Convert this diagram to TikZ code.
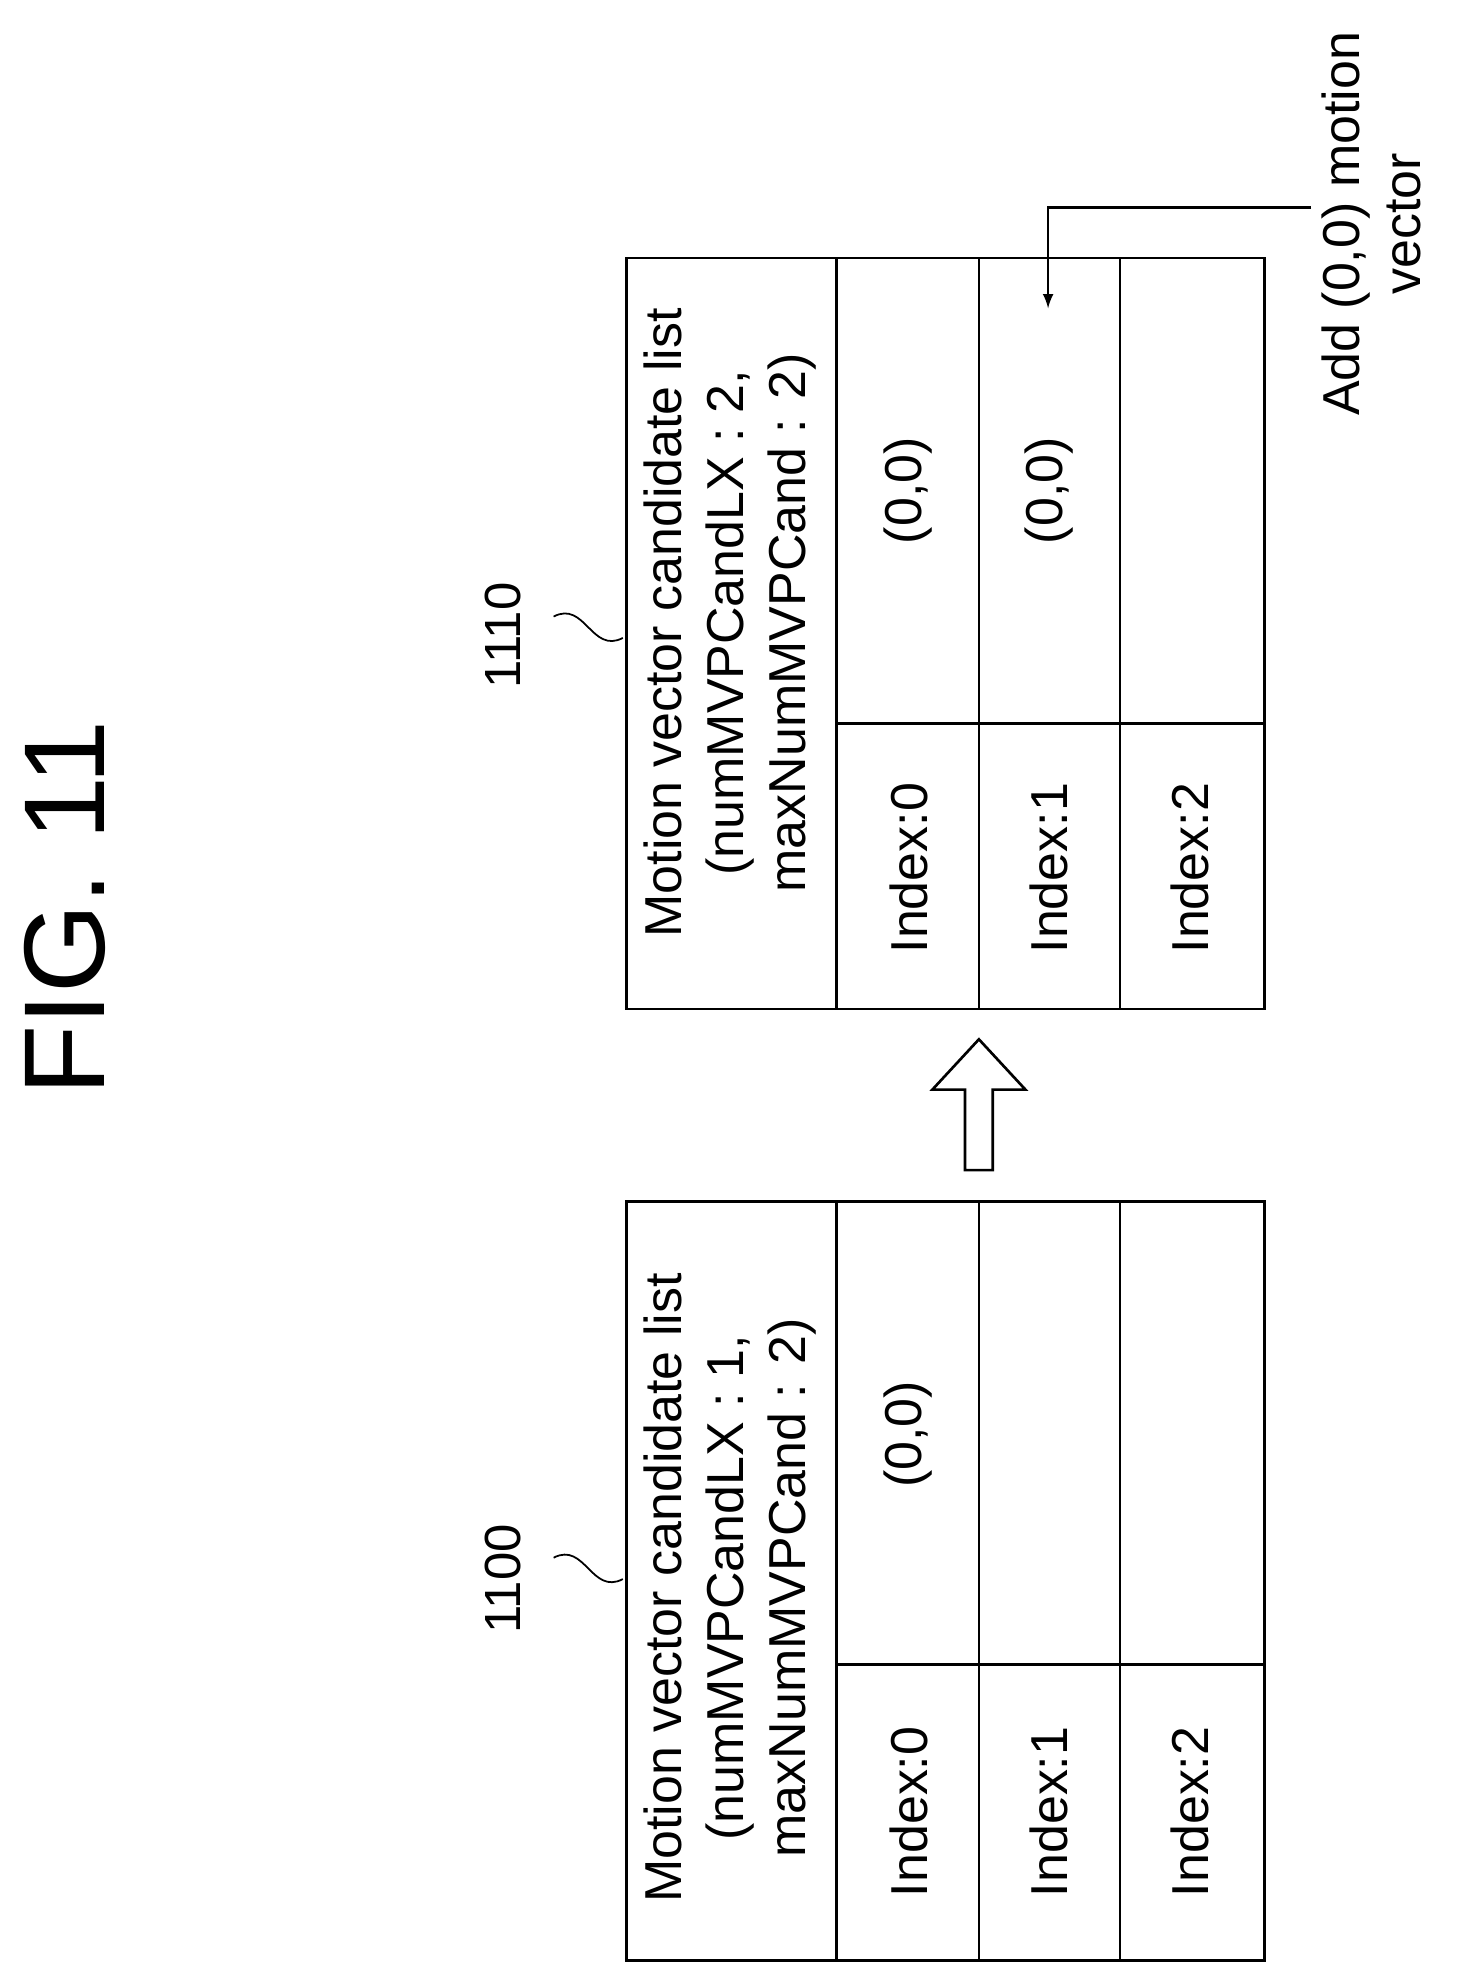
\documentclass[tikz,border=0pt]{standalone}
\usepackage{fontspec}
\setmainfont{Liberation Sans}
\usepackage{tikz}

\begin{document}
\begin{tikzpicture}[x=0.02cm, y=-0.02cm, line width=1.2pt,
    txt/.style={rotate=90, font=\fontsize{23.5}{28}\selectfont, align=center, inner sep=0pt}]
            \useasboundingbox (0,0) rectangle (1160,1580);
            \node[rotate=90, font=\fontsize{52}{56}\selectfont] (fig) at (52,722) {FIG. 11};
            % left list
            \draw (498,955) rectangle (1005,1558);
            \draw (665,955)--(665,1558);
            \draw (778,955)--(778,1558);
            \draw (890,955)--(890,1558);
            \draw (665,1323)--(1005,1323);
            \node[txt] (hdl) at (580,1262) {Motion vector candidate list\\(numMVPCandLX : 1,\\maxNumMVPCand : 2)};
            \node[txt] (il0) at (722,1440) {Index:0};
            \node[txt] (il1) at (834,1440) {Index:1};
            \node[txt] (il2) at (946,1440) {Index:2};
            \node[txt] (vl0) at (722,1140) {(0,0)};
            \node[txt, font=\fontsize{23}{27}\selectfont] (n1100) at (400,1255) {1100};
            \draw[line width=0.8pt] (440,1238) .. controls (465,1225) and (470,1268) .. (495,1255);
            % right list
            \draw (498,205) rectangle (1005,802);
            \draw (665,205)--(665,802);
            \draw (778,205)--(778,802);
            \draw (890,205)--(890,802);
            \draw (665,575)--(1005,575);
            \node[txt] (hdr) at (580,495) {Motion vector candidate list\\(numMVPCandLX : 2,\\maxNumMVPCand : 2)};
            \node[txt] (ir0) at (722,690) {Index:0};
            \node[txt] (ir1) at (834,690) {Index:1};
            \node[txt] (ir2) at (946,690) {Index:2};
            \node[txt] (vr0) at (722,390) {(0,0)};
            \node[txt] (vr1) at (834,390) {(0,0)};
            \node[txt, font=\fontsize{23}{27}\selectfont] (n1110) at (400,505) {1110};
            \draw[line width=0.8pt] (440,490) .. controls (465,477) and (470,520) .. (495,507);
            % hollow arrow
            \draw (767,930)--(767,866)--(741,866)--(778,826)--(815,866)--(789,866)--(789,930)--cycle;
            % added vector
            \node[txt] (add) at (1090,178) {Add (0,0) motion\\vector};
            \coordinate (start) at (1042,165);
            \coordinate (bend) at (833,165);
            \coordinate (tip) at (833,245);
            \draw[-latex] (start)--(bend)--(tip);
        \end{tikzpicture}
\end{document}
